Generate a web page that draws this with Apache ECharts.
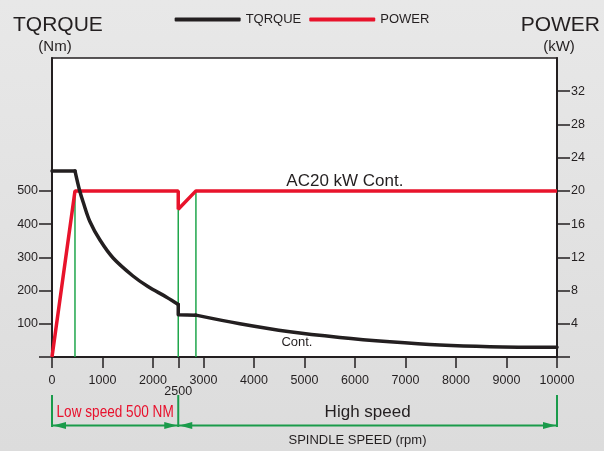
<!DOCTYPE html>
<html><head><meta charset="utf-8">
<script src="https://cdn.jsdelivr.net/npm/echarts@6/dist/echarts.min.js"></script>
<style>html,body{margin:0;padding:0;background:#e3e3e3}#c{width:604px;height:451px}</style>
</head><body><div id="c"></div>
<script>
// ---- data ----
const xTicks = [0, 1000, 2000, 2500, 3000, 4000, 5000, 6000, 7000, 8000, 9000, 10000];
const torqueTicks = [0, 100, 200, 300, 400, 500];
const torqueLabels = [100, 200, 300, 400, 500];
const powerTicks = [0, 4, 8, 12, 16, 20, 24, 28, 32];
const powerLabels = [4, 8, 12, 16, 20, 24, 28, 32];

const torqueSpeed  = [0, 455, 540, 620, 750, 950, 1210, 1610, 1900, 2270, 2500, 2500, 2850, 3720, 4710, 5700, 6690, 7680, 8670, 10000];
const torqueValues = [560, 560, 505, 465, 408, 352, 298, 243, 212, 180, 158, 127, 126, 100, 76, 59, 46, 36, 31, 29];
// index ranges of the torque curve: [from, to, smooth]
const torqueSegments = [[0, 1, false], [1, 10, true], [10, 12, false], [12, 19, true]];

const powerSpeed  = [0, 455, 2500, 2500, 2850, 10000];
const powerValues = [0, 20, 20, 17.8, 20, 20];

const markerSpeed = [455, 2500, 2850];
const markerPower = [20, 17.8, 20];

const rangeBounds = [0, 2500, 10000];
const rangeLabels = ['Low speed 500 NM', 'High speed'];

// ---- chart ----
const DARK = '#231f20', RED = '#e8132b', GREEN = '#1fa64b', GREEN2 = '#1a9b4b';
const FONT = '"Liberation Sans", Arial, sans-serif';
const chart = echarts.init(document.getElementById('c'), null, {renderer: 'canvas'});

const zip = (a, b) => a.map((v, i) => [v, b[i]]);
const torqueData = zip(torqueSpeed, torqueValues);

const markerSeries = markerSpeed.map((s, i) => ({
  type: 'line', yAxisIndex: 1, data: [[s, 0], [s, markerPower[i]]],
  symbol: 'none', silent: true, z: 1, animation: false,
  lineStyle: {color: GREEN, width: 1.5}
}));

const torqueSeries = torqueSegments.map(([a, b, sm]) => ({
  name: 'TQRQUE', type: 'line', yAxisIndex: 0, data: torqueData.slice(a, b + 1),
  symbol: 'none', z: 3, color: DARK, smooth: sm ? 0.35 : false,
  lineStyle: {color: DARK, width: 3.5, cap: 'round', join: 'round'}
}));

chart.setOption({
  animation: false,
  backgroundColor: {type: 'linear', x: 0, y: 0, x2: 0, y2: 1,
    colorStops: [{offset: 0, color: '#e8e8e8'}, {offset: 1, color: '#dcdcdc'}]},
  textStyle: {fontFamily: FONT},
  legend: {
    data: ['TQRQUE', 'POWER'], top: 8, left: 'center', icon: 'roundRect',
    itemWidth: 66, itemHeight: 4, itemGap: 8,
    textStyle: {fontSize: 13, color: DARK, fontFamily: FONT}
  },
  grid: {left: 52, right: 47, top: 58, bottom: 94, show: true,
    backgroundColor: '#ffffff', borderColor: DARK, borderWidth: 1.5},
  xAxis: {
    type: 'value', min: 0, max: 10000,
    axisLine: {lineStyle: {color: DARK, width: 2}},
    axisTick: {customValues: xTicks, length: 11, lineStyle: {color: DARK, width: 1.5}},
    axisLabel: {customValues: xTicks, margin: 17, fontSize: 12.5, color: DARK, fontFamily: FONT,
      formatter: v => v === 2500 ? '{low|2500}' : String(v),
      rich: {low: {padding: [11, 0, 0, 0], fontSize: 12.5, color: DARK, fontFamily: FONT}}},
    splitLine: {show: false}
  },
  yAxis: [{
    type: 'value', min: 0, max: 900, position: 'left',
    axisLine: {show: true, lineStyle: {color: DARK, width: 2}},
    axisTick: {show: true, customValues: torqueTicks, length: 13, lineStyle: {color: DARK, width: 1.5}},
    axisLabel: {customValues: torqueLabels, margin: 14, fontSize: 12.5, color: DARK, fontFamily: FONT},
    splitLine: {show: false}
  }, {
    type: 'value', min: 0, max: 36, position: 'right',
    axisLine: {show: true, lineStyle: {color: DARK, width: 2}},
    axisTick: {show: true, customValues: powerTicks, length: 13, lineStyle: {color: DARK, width: 1.5}},
    axisLabel: {customValues: powerLabels, margin: 14, fontSize: 12.5, color: DARK, fontFamily: FONT},
    splitLine: {show: false}
  }],
  series: markerSeries.concat([{
    name: 'POWER', type: 'line', yAxisIndex: 1, data: zip(powerSpeed, powerValues),
    symbol: 'none', z: 2, color: RED, lineStyle: {color: RED, width: 3.5}
  }], torqueSeries)
});

// ---- annotations positioned through the axes ----
const px = v => chart.convertToPixel({xAxisIndex: 0}, v);
const pt = (x, y, yi) => chart.convertToPixel({xAxisIndex: 0, yAxisIndex: yi}, [x, y]);

const g = [];
const txt = (text, x, y, size, align, opts, extra) => g.push(Object.assign({
  type: 'text', x, y, silent: true,
  style: Object.assign({text, fontSize: size, fontFamily: FONT, fill: DARK, align, verticalAlign: 'middle'}, opts || {})
}, extra || {}));

txt('TQRQUE', 13, 25, 21, 'left');
txt('(Nm)', 55, 47, 15, 'center');
txt('POWER', 600, 25, 21, 'right');
txt('(kW)', 559, 47, 15, 'center');

const a1 = pt(5800, 20, 1);
txt('AC20 kW Cont.', a1[0], a1[1] - 10, 17, 'center');
const a2 = pt(4850, 45, 0);
txt('Cont.', a2[0], a2[1], 13, 'center');

// range dimension lines below the axis
const yLine = 425.5;
rangeBounds.forEach(b => {
  const x = px(b);
  g.push({type: 'line', silent: true, shape: {x1: x, y1: 395, x2: x, y2: 427},
    style: {stroke: GREEN2, lineWidth: 2}});
});
g.push({type: 'line', silent: true, shape: {x1: px(rangeBounds[0]), y1: yLine, x2: px(rangeBounds[2]), y2: yLine},
  style: {stroke: GREEN2, lineWidth: 2}});
const arrow = (tip, dir) => g.push({type: 'polygon', silent: true,
  shape: {points: [[tip, yLine], [tip + dir * 13, yLine - 3.5], [tip + dir * 13, yLine + 3.5]]},
  style: {fill: GREEN2}});
for (let i = 0; i < rangeBounds.length - 1; i++) {
  const x0 = px(rangeBounds[i]), x1 = px(rangeBounds[i + 1]);
  arrow(x0 + 1, 1);
  arrow(x1 - 1, -1);
  if (i === 0) {
    txt(rangeLabels[i], (x0 + x1) / 2, 412.5, 17, 'center', {fill: '#e8112d'}, {scaleX: 0.8});
  } else {
    txt(rangeLabels[i], (x0 + x1) / 2, 412.5, 17, 'center');
  }
}
txt('SPINDLE SPEED (rpm)', (px(0) + px(10000)) / 2 + 53, 440, 13, 'center');

chart.setOption({graphic: g});
</script></body></html>
